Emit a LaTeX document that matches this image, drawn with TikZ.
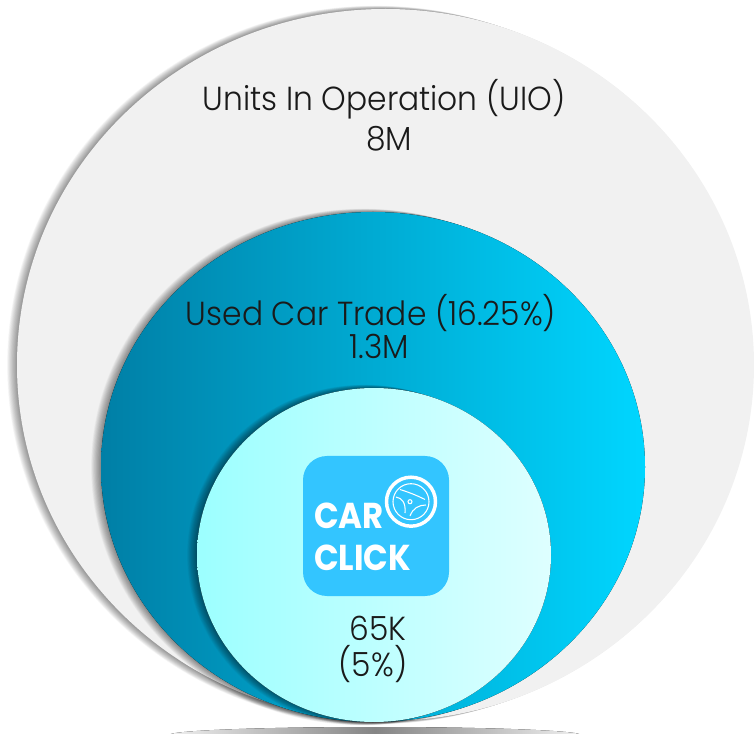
\documentclass[tikz,border=0pt]{standalone}
\usepackage{fontspec}
\setmainfont[UprightFont=* Light,BoldFont=* Bold,UprightFeatures={FakeStretch=0.94},BoldFeatures={FakeStretch=0.9}]{Poppins}
\definecolor{midL}{HTML}{007FA6}
\definecolor{midR}{HTML}{00D6FF}
\definecolor{inL}{HTML}{9CFFFF}
\definecolor{inR}{HTML}{DEFFFF}
\definecolor{logoBlue}{HTML}{33C5FF}
\definecolor{ink}{HTML}{1A1A1A}
\tikzset{
  label text/.style={text=ink,inner sep=0pt,font=\fontsize{25}{30}\selectfont},
  logo text/.style={text=white,inner sep=0pt,anchor=base west,font=\bfseries\fontsize{27}{30}\selectfont},
  wheel line/.style={draw=white,line width=0.8pt},
  pics/softshadow/.style args={#1/#2/#3/#4}{code={
    \foreach \i in {1,...,18}{
      \fill[black,opacity=0.028] ({#1-0.55*\i},#2) ellipse [x radius=#3,y radius={#4+0.18*\i}];
    }
  }}
}
\begin{document}
\begin{tikzpicture}[x=0.75pt,y=-0.75pt]
\useasboundingbox (0,0) rectangle (754,734);
% floor shadow
\begin{scope}
  \clip (0,0) rectangle (754,734);
  \fill[left color=gray!12,right color=gray!12,middle color=black!48] (375,735) ellipse [x radius=206,y radius=8];
\end{scope}
% outer
\pic {softshadow={385.5/365/368.5/356}};
\fill[black!5.5] (385.5,365) ellipse [x radius=368.5,y radius=356];
% middle
\pic {softshadow={373/467/272/255}};
\fill[left color=midL,right color=midR] (373,467) ellipse [x radius=272,y radius=255];
% inner
\pic {softshadow={374/555/177/167}};
\fill[left color=inL,right color=inR] (374,555) ellipse [x radius=177,y radius=167];
% logo
\fill[logoBlue,rounded corners=18pt] (303,456) rectangle (449,596);
\node[logo text] (car) at (314,528) {CAR};
\node[logo text] (click) at (314,570) {CLICK};
\draw[white,line width=2.6pt] (411,501.7) circle [radius=24.5];
\draw[wheel line] (411,501.7) circle [radius=18];
\draw[wheel line] (410,501.7) circle [radius=2];
\draw[wheel line] (400,489.5) .. controls (408,492) and (416,495) .. (425,499.5);
\draw[wheel line] (396,497) .. controls (402,498) and (406,503) .. (405,513);
\draw[wheel line] (426,505) .. controls (419,505) and (413,508) .. (410,516);
% labels
\node[label text] (uio) at (384,99) {Units In Operation (UIO)};
\node[label text] (uiov) at (389,139) {8M};
\node[label text] (trade) at (371,313) {Used Car Trade (16.25\%)};
\node[label text] (tradev) at (379,346) {1.3M};
\node[label text] (cc) at (378,628) {65K};
\node[label text] (ccp) at (373,664) {(5\%)};
\end{tikzpicture}
\end{document}
